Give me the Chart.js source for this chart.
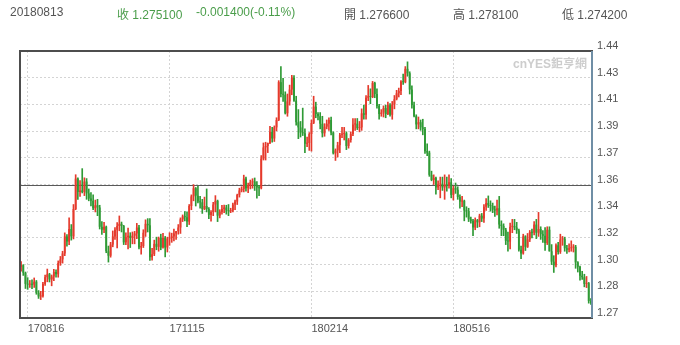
<!DOCTYPE html>
<html>
<head>
<meta charset="utf-8">
<script src="https://cdn.jsdelivr.net/npm/chart.js@4/dist/chart.umd.min.js"></script>
<style>
  html, body { margin: 0; padding: 0; background: #fff; }
  #wrap { position: relative; width: 680px; height: 345px; overflow: hidden; }
  #chart { position: absolute; left: 0; top: 0; }
  .hd { position: absolute; top: 5px; white-space: nowrap; color: #555;
        font: 12px "Liberation Sans", "Noto Sans CJK TC", sans-serif; }
  .up { color: #4a9d4a; }
  #mark { position: absolute; left: 513px; top: 54px; color: #cdcdcd; white-space: nowrap;
          font: bold 12px "Liberation Sans", "Noto Sans CJK TC", sans-serif; }
</style>
</head>
<body>
<div id="wrap">
  <canvas id="chart" width="680" height="345"></canvas>
  <div class="hd" style="left:10px">20180813</div>
  <div class="hd up" style="left:117px">收 1.275100</div>
  <div class="hd up" style="left:196px">-0.001400(-0.11%)</div>
  <div class="hd" style="left:344px">開 1.276600</div>
  <div class="hd" style="left:453px">高 1.278100</div>
  <div class="hd" style="left:562px">低 1.274200</div>
  <div id="mark">cnYES鉅亨網</div>
</div>
<script>
// GBP/USD daily candles, 170811 .. 180813
const yMin = 1.265, yMax = 1.445, midLine = 1.355;
const yTickLabels = ['1.27', '1.28', '1.30', '1.32', '1.34', '1.36', '1.37', '1.39', '1.41', '1.43', '1.44'];
const xTickIndex = [3, 68, 133, 198];
const xTickLabels = ['170816', '171115', '180214', '180516'];

const opens = [
  1.2995,1.3006,1.2955,1.2880,1.2875,1.2880,1.2875,1.2895,1.2820,1.2795,
  1.2797,1.2880,1.2925,1.2945,1.2910,1.2930,1.2960,1.2945,1.3020,1.3045,
  1.3085,1.3200,1.3165,1.3250,1.3200,1.3385,1.3590,1.3500,1.3510,1.3500,
  1.3570,1.3490,1.3455,1.3440,1.3390,1.3410,1.3395,1.3265,1.3245,1.3265,
  1.3100,1.3070,1.3145,1.3200,1.3245,1.3270,1.3285,1.3270,1.3160,1.3195,
  1.3205,1.3190,1.3205,1.3220,1.3260,1.3125,1.3135,1.3225,1.3285,1.3275,
  1.3060,1.3080,1.3150,1.3130,1.3190,1.3125,1.3190,1.3125,1.3185,1.3190,
  1.3200,1.3220,1.3235,1.3260,1.3315,1.3335,1.3330,1.3300,1.3405,1.3470,
  1.3525,1.3475,1.3435,1.3430,1.3385,1.3405,1.3385,1.3345,1.3365,1.3415,
  1.3440,1.3340,1.3365,1.3385,1.3395,1.3375,1.3370,1.3375,1.3415,1.3435,
  1.3480,1.3510,1.3520,1.3590,1.3525,1.3545,1.3565,1.3570,1.3540,1.3530,
  1.3525,1.3725,1.3800,1.3810,1.3830,1.3905,1.3860,1.3935,1.3985,1.4240,
  1.4160,1.4155,1.4030,1.4110,1.4190,1.4270,1.4115,1.3970,1.3935,1.3900,
  1.3895,1.3825,1.3830,1.3890,1.3965,1.4075,1.4025,1.4010,1.3960,1.3895,
  1.3940,1.3960,1.3985,1.3900,1.3760,1.3780,1.3815,1.3885,1.3890,1.3895,
  1.3810,1.3850,1.3890,1.3955,1.3960,1.3930,1.3935,1.4030,1.4020,1.4135,
  1.4145,1.4140,1.4235,1.4160,1.4080,1.4025,1.4035,1.4065,1.4025,1.4085,
  1.4020,1.4090,1.4125,1.4165,1.4180,1.4245,1.4240,1.4330,1.4300,1.4190,
  1.4085,1.4010,1.3955,1.3970,1.3935,1.3925,1.3775,1.3765,1.3615,1.3580,
  1.3595,1.3530,1.3550,1.3555,1.3530,1.3550,1.3545,1.3565,1.3480,1.3525,
  1.3515,1.3465,1.3435,1.3440,1.3375,1.3370,1.3315,1.3305,1.3260,1.3310,
  1.3295,1.3340,1.3320,1.3400,1.3425,1.3410,1.3405,1.3380,1.3375,1.3390,
  1.3280,1.3270,1.3245,1.3170,1.3165,1.3265,1.3270,1.3260,1.3240,1.3110,
  1.3085,1.3200,1.3130,1.3180,1.3230,1.3225,1.3280,1.3225,1.3250,1.3215,
  1.3205,1.3155,1.3245,1.3100,1.3030,1.3005,1.3140,1.3095,1.3180,1.3185,
  1.3120,1.3110,1.3120,1.3125,1.3130,1.3025,1.2995,1.2935,1.2925,1.2880,
  1.2885,1.2766
];
const highs = [
  1.3030,1.3010,1.2960,1.2922,1.2903,1.2907,1.2920,1.2903,1.2835,1.2830,
  1.2890,1.2939,1.2980,1.2951,1.2940,1.2978,1.2975,1.3035,1.3065,1.3100,
  1.3224,1.3212,1.3325,1.3280,1.3415,1.3616,1.3595,1.3576,1.3657,1.3595,
  1.3590,1.3520,1.3495,1.3480,1.3445,1.3450,1.3410,1.3300,1.3295,1.3270,
  1.3135,1.3160,1.3237,1.3260,1.3294,1.3338,1.3297,1.3275,1.3225,1.3256,
  1.3225,1.3230,1.3234,1.3288,1.3275,1.3160,1.3245,1.3312,1.3320,1.3320,
  1.3120,1.3175,1.3195,1.3196,1.3215,1.3220,1.3200,1.3195,1.3225,1.3222,
  1.3250,1.3235,1.3280,1.3325,1.3345,1.3367,1.3365,1.3415,1.3480,1.3549,
  1.3530,1.3540,1.3470,1.3450,1.3465,1.3520,1.3395,1.3375,1.3430,1.3475,
  1.3445,1.3380,1.3410,1.3411,1.3410,1.3415,1.3390,1.3425,1.3445,1.3485,
  1.3525,1.3535,1.3613,1.3600,1.3560,1.3580,1.3589,1.3594,1.3570,1.3545,
  1.3745,1.3830,1.3835,1.3830,1.3943,1.3935,1.3945,1.4000,1.4250,1.4345,
  1.4265,1.4175,1.4160,1.4220,1.4286,1.4285,1.4145,1.4055,1.3975,1.4065,
  1.3925,1.3870,1.3900,1.3985,1.4145,1.4105,1.4035,1.4035,1.4010,1.3960,
  1.3985,1.4000,1.4005,1.3905,1.3790,1.3835,1.3895,1.3935,1.3935,1.3905,
  1.3860,1.3905,1.3995,1.3995,1.3995,1.3975,1.4060,1.4085,1.4150,1.4218,
  1.4195,1.4245,1.4240,1.4195,1.4090,1.4055,1.4080,1.4085,1.4105,1.4095,
  1.4110,1.4150,1.4185,1.4200,1.4250,1.4295,1.4345,1.4377,1.4310,1.4215,
  1.4105,1.4020,1.4005,1.3985,1.3990,1.3935,1.3825,1.3775,1.3640,1.3615,
  1.3600,1.3575,1.3600,1.3600,1.3615,1.3600,1.3615,1.3590,1.3540,1.3560,
  1.3535,1.3480,1.3470,1.3445,1.3400,1.3390,1.3330,1.3315,1.3325,1.3315,
  1.3350,1.3355,1.3415,1.3455,1.3473,1.3440,1.3425,1.3405,1.3445,1.3470,
  1.3305,1.3285,1.3255,1.3230,1.3290,1.3315,1.3315,1.3295,1.3250,1.3135,
  1.3215,1.3205,1.3220,1.3240,1.3250,1.3300,1.3315,1.3362,1.3265,1.3240,
  1.3260,1.3265,1.3265,1.3145,1.3070,1.3150,1.3160,1.3215,1.3200,1.3195,
  1.3140,1.3150,1.3170,1.3145,1.3140,1.3030,1.3000,1.2965,1.2945,1.2930,
  1.2890,1.2781
];
const lows = [
  1.2966,1.2937,1.2849,1.2843,1.2856,1.2847,1.2856,1.2810,1.2782,1.2774,
  1.2790,1.2870,1.2894,1.2893,1.2867,1.2902,1.2925,1.2925,1.3005,1.3020,
  1.3070,1.3135,1.3145,1.3175,1.3183,1.3380,1.3450,1.3470,1.3493,1.3475,
  1.3450,1.3440,1.3405,1.3380,1.3365,1.3340,1.3250,1.3213,1.3225,1.3090,
  1.3027,1.3060,1.3130,1.3180,1.3122,1.3238,1.3230,1.3145,1.3145,1.3115,
  1.3125,1.3150,1.3150,1.3185,1.3115,1.3080,1.3125,1.3200,1.3230,1.3038,
  1.3040,1.3070,1.3110,1.3100,1.3110,1.3120,1.3062,1.3095,1.3140,1.3160,
  1.3170,1.3180,1.3215,1.3220,1.3300,1.3305,1.3265,1.3280,1.3380,1.3440,
  1.3405,1.3425,1.3390,1.3355,1.3380,1.3365,1.3320,1.3302,1.3340,1.3365,
  1.3300,1.3325,1.3350,1.3360,1.3350,1.3340,1.3360,1.3365,1.3380,1.3415,
  1.3465,1.3500,1.3500,1.3505,1.3495,1.3520,1.3525,1.3510,1.3458,1.3475,
  1.3520,1.3715,1.3715,1.3765,1.3825,1.3835,1.3840,1.3912,1.3980,1.4140,
  1.4110,1.4025,1.4010,1.4085,1.4155,1.4110,1.3950,1.3859,1.3870,1.3880,
  1.3765,1.3805,1.3780,1.3775,1.3960,1.4000,1.3985,1.3925,1.3870,1.3875,
  1.3925,1.3915,1.3885,1.3755,1.3712,1.3735,1.3765,1.3865,1.3850,1.3785,
  1.3795,1.3835,1.3880,1.3915,1.3920,1.3905,1.3915,1.3990,1.3990,1.4115,
  1.4095,1.4135,1.4135,1.4065,1.3990,1.4010,1.4005,1.4000,1.4020,1.4010,
  1.3990,1.4060,1.4120,1.4140,1.4155,1.4225,1.4235,1.4280,1.4160,1.4065,
  1.4005,1.3925,1.3925,1.3915,1.3885,1.3760,1.3745,1.3605,1.3575,1.3550,
  1.3485,1.3515,1.3460,1.3510,1.3450,1.3505,1.3525,1.3460,1.3445,1.3490,
  1.3450,1.3390,1.3400,1.3305,1.3330,1.3300,1.3290,1.3205,1.3245,1.3260,
  1.3265,1.3300,1.3295,1.3375,1.3395,1.3370,1.3360,1.3335,1.3345,1.3255,
  1.3205,1.3205,1.3145,1.3100,1.3115,1.3225,1.3245,1.3220,1.3100,1.3050,
  1.3080,1.3105,1.3125,1.3165,1.3190,1.3210,1.3185,1.3200,1.3180,1.3160,
  1.3105,1.3145,1.3100,1.3010,1.2957,1.2995,1.3080,1.3085,1.3140,1.3100,
  1.3085,1.3095,1.3100,1.3095,1.2985,1.2960,1.2905,1.2910,1.2860,1.2855,
  1.2750,1.2742
];
const closes = [
  1.3006,1.2955,1.2880,1.2875,1.2880,1.2875,1.2895,1.2820,1.2795,1.2797,
  1.2880,1.2925,1.2945,1.2910,1.2930,1.2960,1.2945,1.3020,1.3045,1.3085,
  1.3200,1.3165,1.3250,1.3200,1.3385,1.3590,1.3500,1.3510,1.3500,1.3570,
  1.3490,1.3455,1.3440,1.3390,1.3410,1.3395,1.3265,1.3245,1.3265,1.3100,
  1.3070,1.3145,1.3200,1.3245,1.3270,1.3285,1.3270,1.3160,1.3195,1.3205,
  1.3190,1.3205,1.3220,1.3260,1.3125,1.3135,1.3225,1.3285,1.3275,1.3060,
  1.3080,1.3150,1.3130,1.3190,1.3125,1.3190,1.3125,1.3185,1.3190,1.3200,
  1.3220,1.3235,1.3260,1.3315,1.3335,1.3330,1.3300,1.3405,1.3470,1.3525,
  1.3475,1.3435,1.3430,1.3385,1.3405,1.3385,1.3345,1.3365,1.3415,1.3440,
  1.3340,1.3365,1.3385,1.3395,1.3375,1.3370,1.3375,1.3415,1.3435,1.3480,
  1.3510,1.3520,1.3590,1.3525,1.3545,1.3565,1.3570,1.3540,1.3530,1.3525,
  1.3725,1.3800,1.3810,1.3830,1.3905,1.3860,1.3935,1.3985,1.4240,1.4160,
  1.4155,1.4030,1.4110,1.4190,1.4270,1.4115,1.3970,1.3935,1.3900,1.3895,
  1.3825,1.3830,1.3890,1.3965,1.4075,1.4025,1.4010,1.3960,1.3895,1.3940,
  1.3960,1.3985,1.3900,1.3760,1.3780,1.3815,1.3885,1.3890,1.3895,1.3810,
  1.3850,1.3890,1.3955,1.3960,1.3930,1.3935,1.4030,1.4020,1.4135,1.4145,
  1.4140,1.4235,1.4160,1.4080,1.4025,1.4035,1.4065,1.4025,1.4085,1.4020,
  1.4090,1.4125,1.4165,1.4180,1.4245,1.4240,1.4330,1.4300,1.4190,1.4085,
  1.4010,1.3955,1.3970,1.3935,1.3925,1.3775,1.3765,1.3615,1.3580,1.3595,
  1.3530,1.3550,1.3555,1.3530,1.3550,1.3545,1.3565,1.3480,1.3525,1.3515,
  1.3465,1.3435,1.3440,1.3375,1.3370,1.3315,1.3305,1.3260,1.3310,1.3295,
  1.3340,1.3320,1.3400,1.3425,1.3410,1.3405,1.3380,1.3375,1.3390,1.3280,
  1.3270,1.3245,1.3170,1.3165,1.3265,1.3270,1.3260,1.3240,1.3110,1.3085,
  1.3200,1.3130,1.3180,1.3230,1.3225,1.3280,1.3225,1.3250,1.3215,1.3205,
  1.3155,1.3245,1.3100,1.3030,1.3005,1.3140,1.3095,1.3180,1.3185,1.3120,
  1.3110,1.3120,1.3125,1.3130,1.3025,1.2995,1.2935,1.2925,1.2880,1.2885,
  1.2765,1.2751
];

const UP = '#e53a2c', DOWN = '#2f9a35';
const AXIS_FONT = { family: '"Liberation Sans", Arial, sans-serif', size: 11 };
const days = closes.map((_, i) => i);
const tone = closes.map((c, i) => (c >= opens[i] ? UP : DOWN));

// mid line under the candles, frame over them
const frame = {
  id: 'frame',
  beforeDatasetsDraw(chart) {
    const { ctx, chartArea: a, scales: { y } } = chart;
    const ym = Math.round(y.getPixelForValue(midLine)) + 0.5;
    ctx.save();
    ctx.strokeStyle = '#5a5a5a';
    ctx.lineWidth = 1;
    ctx.beginPath(); ctx.moveTo(a.left, ym); ctx.lineTo(a.right, ym); ctx.stroke();
    ctx.restore();
  },
  afterDatasetsDraw(chart) {
    const { ctx, chartArea: a } = chart;
    ctx.save();
    ctx.lineWidth = 2;
    ctx.strokeStyle = '#4d4d4d';
    ctx.strokeRect(a.left, a.top, a.right - a.left, a.bottom - a.top);
    ctx.strokeStyle = '#6f8ea5';
    ctx.beginPath(); ctx.moveTo(a.right, a.top); ctx.lineTo(a.right, a.bottom); ctx.stroke();
    ctx.restore();
  }
};

new Chart(document.getElementById('chart'), {
  type: 'bar',
  data: {
    labels: days,
    datasets: [
      { data: highs.map((h, i) => [lows[i], h]), backgroundColor: tone,
        barThickness: 1, grouped: false },
      { data: opens.map((o, i) => [o, closes[i]]), backgroundColor: tone,
        barPercentage: 0.85, categoryPercentage: 1, minBarLength: 1, grouped: false }
    ]
  },
  options: {
    responsive: false,
    animation: false,
    layout: { padding: { left: 20, top: 51, right: 0, bottom: 0 } },
    plugins: { legend: { display: false }, tooltip: { enabled: false } },
    scales: {
      x: {
        offset: true,
        grid: { offset: false, color: '#d4d4d4', drawTicks: false },
        border: { display: false, dash: [2, 2] },
        afterBuildTicks: s => { s.ticks = xTickIndex.map(v => ({ value: v })); },
        afterFit: s => { s.height = 27; },
        ticks: {
          autoSkip: false, maxRotation: 0, minRotation: 0, align: 'start',
          padding: 4, color: '#555', font: AXIS_FONT,
          callback: (v, i) => xTickLabels[i]
        }
      },
      y: {
        position: 'right',
        min: yMin, max: yMax,
        grid: { color: '#d4d4d4', drawTicks: false },
        border: { display: false, dash: [2, 2] },
        afterBuildTicks: s => {
          const step = (yMax - yMin) / (yTickLabels.length - 1);
          s.ticks = yTickLabels.map((_, k) => ({ value: yMin + k * step }));
        },
        afterFit: s => { s.width = 88; },
        ticks: {
          autoSkip: false, padding: 5, labelOffset: -5, color: '#555', font: AXIS_FONT,
          callback: (v, i) => yTickLabels[i]
        }
      }
    }
  },
  plugins: [frame]
});
</script>
</body>
</html>
